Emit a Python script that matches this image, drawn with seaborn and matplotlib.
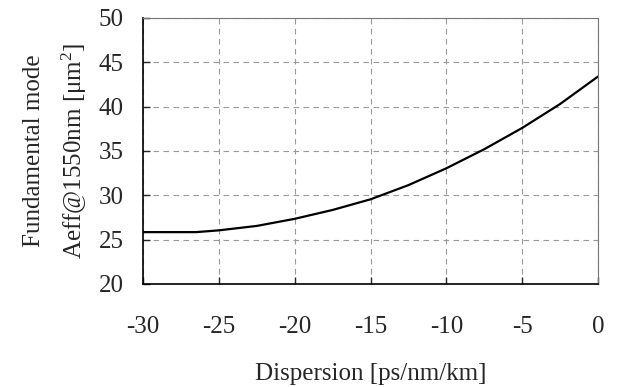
import numpy as np
import matplotlib
matplotlib.use("Agg")
import matplotlib.pyplot as plt
import seaborn as sns
import pandas as pd

# data
dispersion = [-30, -28, -26.5, -25, -22.5, -20, -17.5, -15, -12.5, -10, -7.5, -5, -2.5, 0]
aeff = [25.85, 25.85, 25.85, 26.05, 26.55, 27.35, 28.35, 29.55, 31.15, 33.05, 35.2, 37.6, 40.3, 43.4]
xticks = [-30, -25, -20, -15, -10, -5, 0]
yticks = [20, 25, 30, 35, 40, 45, 50]

sns.set_theme(style="white")
plt.rcParams['font.family'] = ['Liberation Serif', 'DejaVu Serif']
plt.rcParams['mathtext.fontset'] = 'custom'
plt.rcParams['mathtext.rm'] = 'Liberation Serif'
plt.rcParams['mathtext.it'] = 'Liberation Serif:italic'
plt.rcParams['axes.unicode_minus'] = False

df = pd.DataFrame({'x': dispersion, 'y': aeff})

fig = plt.figure(figsize=(6.17, 3.87), dpi=100)
ax = fig.add_axes([143 / 617, 1 - 284 / 387, (598 - 143) / 617, (284 - 18) / 387])

sns.lineplot(data=df, x='x', y='y', ax=ax, color='black', linewidth=1.6)

ax.set_xlim(-30, 0)
ax.set_ylim(20, 50)
ax.set_xticks(xticks)
ax.set_yticks(yticks)
ax.grid(True, linestyle=(0, (5, 4)), color='#999999', linewidth=0.8)

for side in ['top', 'right']:
    ax.spines[side].set_color('#777777')
    ax.spines[side].set_linewidth(0.8)
for side in ['left', 'bottom']:
    ax.spines[side].set_color('black')
    ax.spines[side].set_linewidth(1.2)

ax.tick_params(axis='x', direction='in', length=5, width=1, pad=23, labelsize=18, bottom=True)
ax.tick_params(axis='y', direction='in', length=5, width=1, pad=14, labelsize=18, left=True)

ax.set_xlabel('Dispersion [ps/nm/km]', fontsize=18, labelpad=18)
ax.set_ylabel('Fundamental mode\nAeff@1550nm [μm$^{2}$]', fontsize=18, labelpad=7, linespacing=1.65)

fig.savefig('out.png', dpi=100)
